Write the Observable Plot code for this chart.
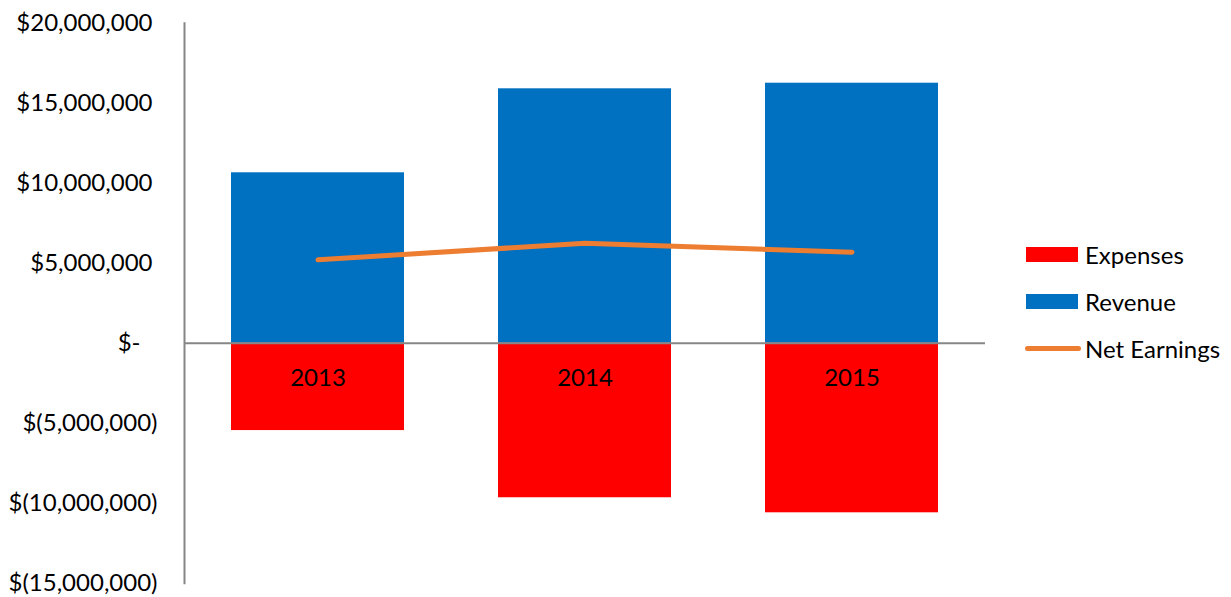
<!DOCTYPE html>
<html>
<head>
<meta charset="utf-8">
<script src="https://cdn.jsdelivr.net/npm/d3@7"></script>
<script src="https://cdn.jsdelivr.net/npm/@observablehq/plot@0.6"></script>
<style>
  html, body { margin: 0; padding: 0; background: #fff; }
  #wrap { position: relative; width: 1231px; height: 597px; font-family: Lato, "Open Sans", sans-serif; }
  #legend { position: absolute; left: 1025px; top: 231px; font-size: 24px; color: #000; }
  .item { display: flex; align-items: center; height: 47px; }
  .sw { width: 52px; height: 15px; margin-right: 7px; margin-left: 1px; }
  .ln { width: 56px; height: 5px; border-radius: 3px; margin-right: 4px; }
</style>
</head>
<body>
<div id="wrap"></div>
<script>
const years = ["2013", "2014", "2015"];
const revenue = [10650000, 15900000, 16250000];
const expenses = [-5460000, -9660000, -10600000];
const netEarnings = [5210000, 6250000, 5690000];
const positiveTicks = [5000000, 10000000, 15000000, 20000000];
const negativeTicks = [-5000000, -10000000, -15000000];
const zeroTick = [0];
const seriesNames = ["Expenses", "Revenue", "Net Earnings"];
const seriesColors = ["#FF0000", "#0070C0", "#ED7D31"];

const table = years.map((year, i) => ({year, revenue: revenue[i], expenses: expenses[i], net: netEarnings[i]}));
const num = d3.format(",");
const fmt = d => d === 0 ? "$-" : d < 0 ? `$(${num(-d)})` : `$${num(d)}`;

const chart = Plot.plot({
  width: 1231,
  height: 597,
  marginTop: 22.7,
  marginBottom: 14.3,
  marginLeft: 184,
  marginRight: 246,
  style: {fontFamily: "Lato, 'Open Sans', sans-serif", fontSize: "24px", color: "#000", background: "#fff"},
  x: {domain: years, paddingInner: 0.352, paddingOuter: 0.176, axis: null},
  y: {domain: [-15000000, 20000000], axis: null},
  marks: [
    Plot.barY(table, {x: "year", y: "revenue", fill: seriesColors[1]}),
    Plot.barY(table, {x: "year", y: "expenses", fill: seriesColors[0]}),
    Plot.ruleY([0], {stroke: "#868686", strokeWidth: 2}),
    Plot.frame({anchor: "left", stroke: "#868686", strokeWidth: 2}),
    Plot.axisY({ticks: positiveTicks, tickFormat: fmt, tickSize: 0, tickPadding: 32, fontSize: 24}),
    Plot.axisY({ticks: negativeTicks, tickFormat: fmt, tickSize: 0, tickPadding: 27, fontSize: 24}),
    Plot.axisY({ticks: zeroTick, tickFormat: fmt, tickSize: 0, tickPadding: 44, fontSize: 24}),
    Plot.text(table, {x: "year", y: 0, text: "year", dy: 35, fontSize: 24, fill: "#000"}),
    Plot.line(table, {x: "year", y: "net", stroke: seriesColors[2], strokeWidth: 5, strokeLinecap: "round", strokeLinejoin: "round"})
  ]
});
const wrap = document.getElementById("wrap");
wrap.appendChild(chart);

const legend = document.createElement("div");
legend.id = "legend";
seriesNames.forEach((name, i) => {
  const item = document.createElement("div");
  item.className = "item";
  const sw = document.createElement("div");
  sw.className = i === 2 ? "ln" : "sw";
  sw.style.background = seriesColors[i];
  const label = document.createElement("span");
  label.textContent = name;
  item.appendChild(sw);
  item.appendChild(label);
  legend.appendChild(item);
});
wrap.appendChild(legend);
</script>
</body>
</html>
